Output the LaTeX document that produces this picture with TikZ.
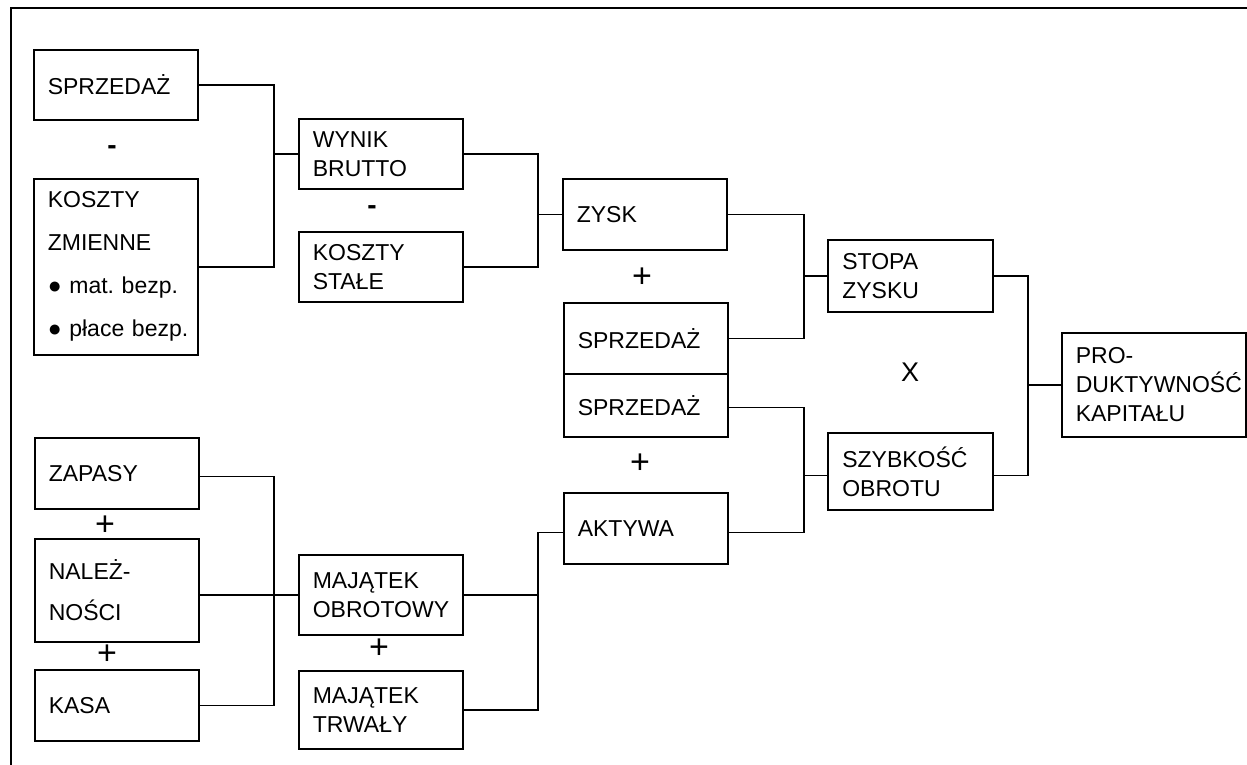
\documentclass[tikz,border=0pt]{standalone}
\usepackage{fontspec}
\setmainfont{Liberation Sans}
\frenchspacing
\begin{document}
\begin{tikzpicture}[x=1pt,y=-1pt,
  line width=1.6pt,
  box/.style={draw, rectangle, anchor=north west, inner xsep=14pt, inner ysep=0pt,
    minimum width=164pt, text width=136pt, align=left,
    font=\fontsize{23}{29}\selectfont},
  conn/.style={line width=1.6pt},
  opsign/.style={inner sep=0pt, font=\fontsize{34}{34}\selectfont},
  minus/.style={inner sep=0pt, font=\fontsize{28}{28}\selectfont\bfseries},
  frame/.style={line width=1.8pt}]
\useasboundingbox (0,0) rectangle (1247,765);
\draw[frame] (11,765) -- (11,8) -- (1247,8);

% bracket columns
\coordinate (x1) at (274,0);
\coordinate (x2) at (538,0);
\coordinate (x3) at (804,0);
\coordinate (x4) at (1028,0);

% top-left group
\node[box, minimum width=163pt, minimum height=70pt] (s1) at (33,49) {SPRZEDAŻ};
\node[minus] (m1) at (112,150) {-};
\node[box, minimum width=163pt, minimum height=176pt] (kz) at (33,178)
  {\mbox{KOSZTY}\\[14pt]\mbox{ZMIENNE}\\[14pt]\mbox{● mat. bezp.}\\[14pt]\mbox{● płace bezp.}};

\node[box, minimum height=70pt] (wb) at (298,118) {WYNIK\\BRUTTO};
\node[minus] (m2) at (372,210) {-};
\node[box, minimum height=70pt] (ks) at (298,231) {KOSZTY\\STAŁE};

\node[box, minimum width=163pt, minimum height=71pt] (zy) at (562,178) {ZYSK};
\node[opsign] (p1) at (642,278) {+};
\node[box, minimum width=163pt, minimum height=71pt] (sp1) at (563,302) {SPRZEDAŻ};
\node[box, minimum width=163pt, minimum height=63pt] (sp2) at (563,373) {SPRZEDAŻ};
\node[opsign] (p2) at (640,464) {+};
\node[box, minimum width=163pt, minimum height=71pt] (ak) at (563,492) {AKTYWA};

\node[box, minimum width=165pt, minimum height=72pt] (st) at (827,239) {STOPA\\ZYSKU};
\node[inner sep=0pt, font=\fontsize{27}{27}\selectfont] (xx) at (910,372) {X};
\node[box, minimum width=165pt, minimum height=77pt] (sz) at (827,432) {SZYBKOŚĆ\\OBROTU};

\node[box, minimum width=184pt, text width=156pt, inner xsep=14pt, minimum height=104pt] (pk) at (1061,332)
  {PRO-\\\mbox{DUKTYWNOŚĆ}\\KAPITAŁU};

% bottom-left group
\node[box, minimum width=163pt, minimum height=71pt] (za) at (34,437) {ZAPASY};
\node[opsign] (p3) at (105,526) {+};
\node[box, minimum width=163pt, minimum height=103pt] (na) at (34,538) {NALEŻ-\\[12pt]NOŚCI};
\node[opsign] (p4) at (107,655) {+};
\node[box, minimum width=163pt, minimum height=71pt] (ka) at (34,669) {KASA};

\node[box, minimum height=80pt] (mo) at (298,554) {MAJĄTEK\\OBROTOWY};
\node[opsign] (p5) at (379,649) {+};
\node[box, minimum height=78pt] (mt) at (298,670) {MAJĄTEK\\TRWAŁY};

% connectors
\draw[conn] (s1.east) -- (s1.east -| x1) -- (kz.east -| x1) -- (kz.east);
\draw[conn] (wb.west) -- (wb.west -| x1);

\draw[conn] (wb.east) -- (wb.east -| x2) -- (ks.east -| x2) -- (ks.east);
\draw[conn] (zy.west) -- (zy.west -| x2);

\draw[conn] (zy.east) -- (zy.east -| x3) -- (sp1.east -| x3) -- (sp1.east);
\draw[conn] (st.west) -- (st.west -| x3);

\draw[conn] ([yshift=-2pt]sp2.east) -- ([yshift=-2pt]sp2.east -| x3) -- ([yshift=-4pt]ak.east -| x3) -- ([yshift=-4pt]ak.east);
\draw[conn] ([yshift=-4pt]sz.west) -- ([yshift=-4pt]sz.west -| x3);

\draw[conn] (st.east) -- (st.east -| x4) -- ([yshift=-4pt]sz.east -| x4) -- ([yshift=-4pt]sz.east);
\draw[conn] (pk.west) -- (pk.west -| x4);

\draw[conn] ([yshift=-3pt]za.east) -- ([yshift=-3pt]za.east -| x1) -- (ka.east -| x1) -- (ka.east);
\draw[conn] (mo.west -| na.east) -- (mo.west);

\draw[conn] ([yshift=-4pt]ak.west) -- ([yshift=-4pt]ak.west -| x2) -- (mt.east -| x2) -- (mt.east);
\draw[conn] (mo.east) -- (mo.east -| x2);
\end{tikzpicture}
\end{document}
